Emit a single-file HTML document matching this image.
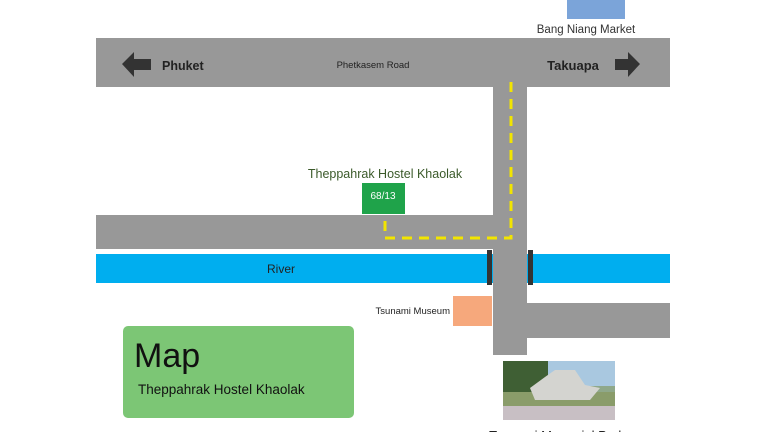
<!DOCTYPE html>
<html><head><meta charset="utf-8"><style>
html,body{margin:0;padding:0;background:#fff;width:768px;height:432px;overflow:hidden}
svg{display:block}
text{font-family:"Liberation Sans",sans-serif}
</style></head><body>
<svg width="768" height="432" viewBox="0 0 768 432">
<rect width="768" height="432" fill="#fff"/>
<rect x="567" y="0" width="58" height="19" fill="#7ba4d9"/>
<text x="586" y="33" font-size="11.5" fill="#333" text-anchor="middle">Bang Niang Market</text>
<rect x="96" y="38" width="574" height="49" fill="#989898"/>
<rect x="493" y="87" width="34" height="268" fill="#989898"/>
<rect x="96" y="215" width="431" height="34" fill="#989898"/>
<rect x="96" y="254" width="574" height="29" fill="#00aeef"/>
<rect x="493" y="250" width="34" height="40" fill="#989898"/>
<rect x="527" y="303" width="143" height="35" fill="#989898"/>
<rect x="487" y="250" width="5" height="35" fill="#333"/>
<rect x="528" y="250" width="5" height="35" fill="#333"/>
<polygon points="122,64 134,52 134,59 151,59 151,70 134,70 134,77" fill="#333"/>
<polygon points="640,64 628,52 628,59 615,59 615,70 628,70 628,77" fill="#333"/>
<text x="162" y="70" font-size="12.5" font-weight="bold" fill="#222">Phuket</text>
<text x="373" y="68" font-size="9.5" fill="#222" text-anchor="middle">Phetkasem Road</text>
<text x="573" y="70" font-size="13" font-weight="bold" fill="#222" text-anchor="middle">Takuapa</text>
<polyline points="511,82 511,238 385,238 385,214" fill="none" stroke="#f2e500" stroke-width="3" stroke-dasharray="10,7"/>
<text x="385" y="178" font-size="12.5" fill="#3b5a2a" text-anchor="middle">Theppahrak Hostel Khaolak</text>
<rect x="362" y="183" width="43" height="31" fill="#1fa34a"/>
<text x="383" y="199" font-size="10" fill="#fff" text-anchor="middle">68/13</text>
<text x="281" y="273" font-size="12" fill="#222" text-anchor="middle">River</text>
<rect x="453" y="296" width="39" height="30" fill="#f6a87c"/>
<text x="450" y="314" font-size="9.5" fill="#222" text-anchor="end">Tsunami Museum</text>
<rect x="123" y="326" width="231" height="92" rx="5" fill="#7cc675"/>
<text x="134" y="367" font-size="34" fill="#111">Map</text>
<text x="138" y="394" font-size="13.5" fill="#111">Theppahrak Hostel Khaolak</text>
<rect x="503" y="361" width="112" height="59" fill="#8fa88a"/>
<rect x="503" y="361" width="112" height="25" fill="#a9c8e0"/>
<rect x="503" y="361" width="45" height="35" fill="#3f5f34"/>
<rect x="503" y="392" width="112" height="14" fill="#8a9c6a"/>
<polygon points="530,388 545,377 555,370 575,370 585,385 600,388 590,400 535,400" fill="#d4d4d0"/>
<rect x="503" y="406" width="112" height="14" fill="#c8bfc4"/>
<text x="557" y="440" font-size="13" fill="#222" text-anchor="middle">Tsunami Memorial Park</text>
</svg>
</body></html>
